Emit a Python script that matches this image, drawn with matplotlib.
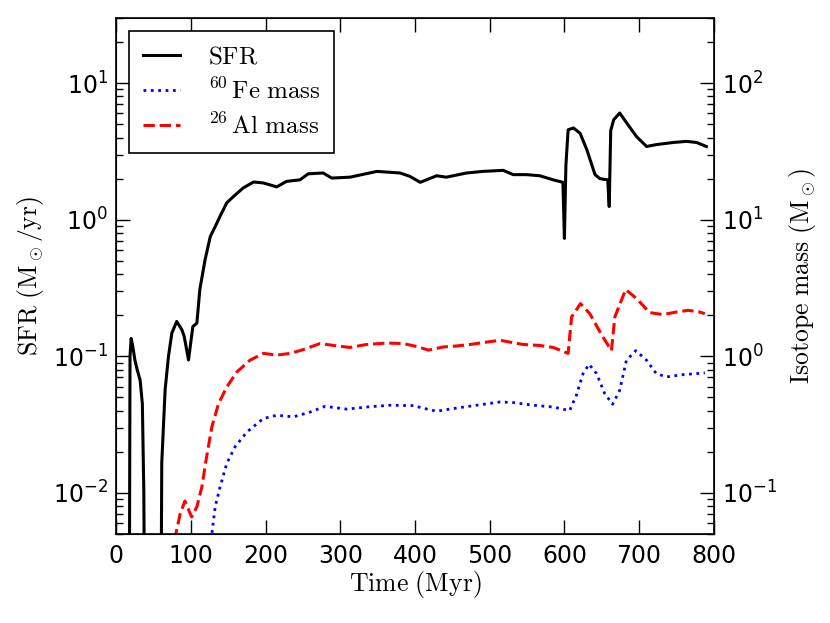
import numpy as np
import matplotlib
matplotlib.use('Agg')
import matplotlib.pyplot as plt
from matplotlib.ticker import LogLocator, NullFormatter

plt.rcParams['axes.unicode_minus'] = False

# star formation rate (Msun/yr) vs time (Myr); 1e-4 = no star formation
sfr_t = [17, 18.5, 20, 22, 25, 28, 32, 35, 37, 39, 59, 61, 65.5, 70, 74.5, 81, 88,
         91, 96.8, 102.6, 108, 112, 119, 126, 132.5, 139, 148, 157, 170, 184, 197,
         215, 228, 246, 257, 277, 288.5, 313, 349, 380, 393, 407, 429, 442, 469,
         491, 518, 531.5, 549, 567, 585, 598, 600, 602, 605, 612, 621, 630, 641,
         647.5, 658, 660, 662, 666, 674, 685, 696.5, 710, 723, 745.6, 763.5, 777, 790]
sfr = [1e-4, 0.1, 0.135, 0.12, 0.094, 0.08, 0.067, 0.045, 0.01, 1e-4, 1e-4, 0.0166,
       0.057, 0.1, 0.148, 0.18, 0.156, 0.14, 0.094, 0.165, 0.175, 0.31, 0.51, 0.755,
       0.89, 1.06, 1.33, 1.48, 1.71, 1.89, 1.86, 1.74, 1.91, 1.96, 2.17, 2.2, 2.02,
       2.05, 2.26, 2.2, 2.08, 1.88, 2.1, 2.05, 2.2, 2.26, 2.3, 2.14, 2.14, 2.1, 1.96,
       1.88, 0.73, 2.5, 4.56, 4.7, 4.3, 3.26, 2.14, 2.0, 1.96, 1.25, 4.5, 5.4, 6.05,
       4.97, 4.07, 3.44, 3.55, 3.68, 3.75, 3.68, 3.44]

# 60Fe mass (Msun)
fe_t = [127, 132.5, 139, 148, 159, 175, 197, 215, 237, 259.5, 279.6, 308.6, 335,
        366.6, 398, 413, 429, 451, 482.5, 514, 531.5, 558, 585, 607, 616, 625, 633,
        643, 654, 664.5, 674, 683, 695.6, 710, 723, 736.7, 759, 788]
fe = [0.045, 0.079, 0.11, 0.164, 0.217, 0.279, 0.35, 0.37, 0.36, 0.39, 0.43, 0.41,
      0.425, 0.438, 0.435, 0.414, 0.396, 0.414, 0.438, 0.463, 0.458, 0.438, 0.425,
      0.4, 0.518, 0.747, 0.874, 0.747, 0.533, 0.445, 0.563, 0.935, 1.1, 0.935, 0.747,
      0.706, 0.734, 0.755]

# 26Al mass (Msun)
al_t = [78, 85.6, 92, 101, 108, 114.6, 121, 128, 137, 148, 161.5, 179, 197, 215, 233,
        250.6, 273, 291, 313, 335, 362, 384, 402, 418, 438, 456, 473.6, 496, 514, 527,
        545, 567, 585, 605, 609.6, 621.6, 634, 650, 663, 667.5, 682, 696.6, 714, 732,
        750, 765.6, 781, 788]
al = [0.045, 0.07, 0.087, 0.0665, 0.079, 0.11, 0.183, 0.303, 0.45, 0.596, 0.767,
      0.935, 1.05, 1.02, 1.05, 1.12, 1.24, 1.2, 1.16, 1.22, 1.25, 1.24, 1.18, 1.11,
      1.17, 1.19, 1.22, 1.27, 1.31, 1.27, 1.22, 1.2, 1.16, 1.05, 1.94, 2.43, 2.05,
      1.43, 1.1, 1.94, 3.08, 2.65, 2.09, 2.02, 2.11, 2.17, 2.11, 2.05]

fig = plt.figure(figsize=(8.3, 6.23), dpi=100)
ax = fig.add_axes([0.140, 0.143, 0.720, 0.828])
ax2 = ax.twinx()

l1, = ax.plot(sfr_t, sfr, color='k', lw=2.2, label=r'$\mathrm{SFR}$')
l2, = ax2.plot(fe_t, fe, color='b', lw=2, ls=':', label=r'$^{60}\,\mathrm{Fe\ mass}$')
l3, = ax2.plot(al_t, al, color='r', lw=2.2, ls='--', label=r'$^{26}\,\mathrm{Al\ mass}$')

ax.set_yscale('log')
ax2.set_yscale('log')
ax.set_xlim(0, 800)
ax.set_ylim(0.005, 30)
ax2.set_ylim(0.05, 300)

for a in (ax, ax2):
    a.yaxis.set_major_locator(LogLocator(base=10))
    a.yaxis.set_minor_locator(LogLocator(base=10, subs=np.arange(2, 10)))
    a.yaxis.set_minor_formatter(NullFormatter())
    a.tick_params(which='major', direction='in', length=10, width=1, labelsize=17)
    a.tick_params(which='minor', direction='in', length=5, width=1)
ax.tick_params(axis='x', top=True, pad=7)
ax.tick_params(axis='y', pad=6)
ax2.tick_params(axis='y', pad=6)
ax.set_xticks(np.arange(0, 801, 100))
for s in ax.spines.values():
    s.set_linewidth(1.2)

xl = ax.set_xlabel(r'$\mathrm{Time\ (Myr)}$', fontsize=18.5, labelpad=1)
yl = ax.set_ylabel(r'$\mathrm{SFR\ (M_\odot/yr)}$', fontsize=18.5, labelpad=5)
yr = ax2.set_ylabel(r'$\mathrm{Isotope\ mass\ (M_\odot)}$', fontsize=18.5, labelpad=7)
for t in (xl, yl, yr):
    t.set_math_fontfamily('cm')

leg = ax.legend([l1, l2, l3], [l1.get_label(), l2.get_label(), l3.get_label()],
                loc='upper left', fontsize=18, fancybox=False, framealpha=1,
                edgecolor='k', borderaxespad=0.52, handlelength=1.5,
                handletextpad=1.1, labelspacing=0.38, borderpad=0.55)
leg.get_frame().set_linewidth(1.2)
for t in leg.get_texts():
    t.set_math_fontfamily('cm')
leg.set_zorder(5)
ax.set_zorder(ax2.get_zorder() + 1)
ax.patch.set_visible(False)

fig.savefig('out.png', dpi=100)
